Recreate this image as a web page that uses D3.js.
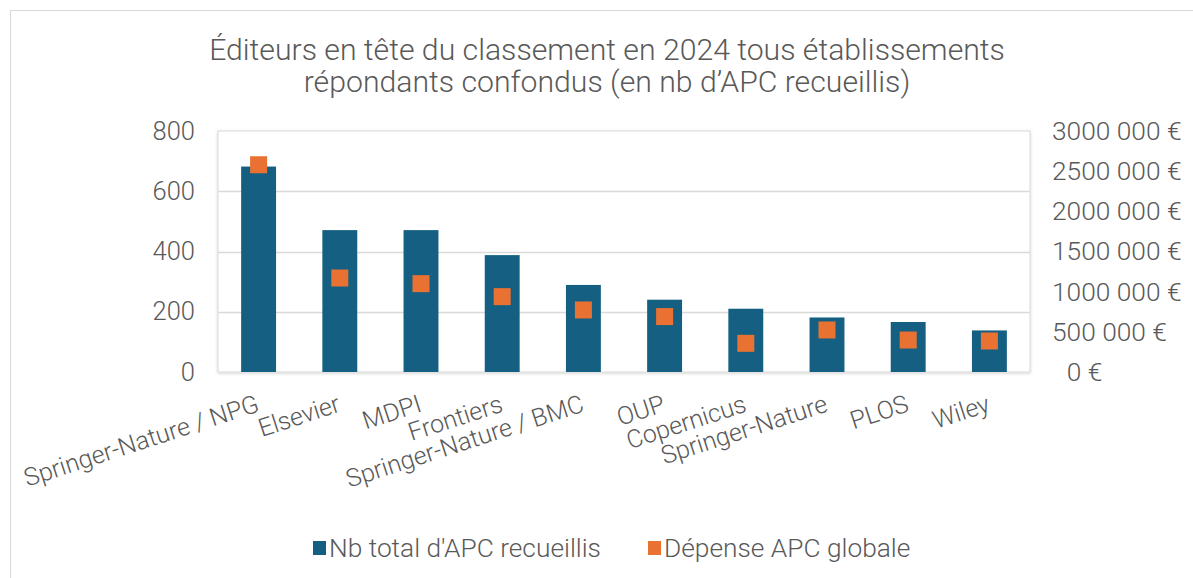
<!DOCTYPE html>
<html>
<head>
<meta charset="utf-8">
<script src="https://cdn.jsdelivr.net/npm/d3@7"></script>
<style>
  body { margin: 0; background: #fff; }
  svg text { font-family: Roboto, "Noto Sans", sans-serif; font-weight: 300; fill: #595959; }
</style>
</head>
<body>
<div id="chart"></div>
<script>
// publishers, ranked by number of APC collected in 2024
const editeurs = ["Springer-Nature / NPG", "Elsevier", "MDPI", "Frontiers", "Springer-Nature / BMC",
                  "OUP", "Copernicus", "Springer-Nature", "PLOS", "Wiley"];
const nbApc = [682, 471, 471, 388, 289, 240, 210, 181, 166, 138];
const depenseApc = [2580000, 1170000, 1100000, 938000, 772000, 690000, 357000, 523000, 398000, 386000];

const leftTicks = [0, 200, 400, 600, 800];
const rightTicks = [0, 500000, 1000000, 1500000, 2000000, 2500000, 3000000];
const rightTickLabels = ["\u20070 €", "500 000 €", "1000 000 €", "1500 000 €", "2000 000 €", "2500 000 €", "3000 000 €"];

const titleLines = ["Éditeurs en tête du classement en 2024 tous établissements",
                    "répondants confondus (en nb d’APC recueillis)"];
const seriesNames = ["Nb total d'APC recueillis", "Dépense APC globale"];

const width = 1193;
const height = 578;
const margin = {left: 218, right: 163, top: 131, bottom: 206};
const blue = "#156082";
const orange = "#E97132";

const svg = d3.select("#chart")
  .append("svg")
  .attr("width", width)
  .attr("height", height);

// drop shadow for plot area
const defs = svg.append("defs");
const filt = defs.append("filter").attr("id", "shadow")
  .attr("x", "-5%").attr("y", "-5%").attr("width", "110%").attr("height", "110%");
filt.append("feDropShadow")
  .attr("dx", 0).attr("dy", 1).attr("stdDeviation", 1.5)
  .attr("flood-color", "#000").attr("flood-opacity", 0.18);

// outer chart frame (runs off the right/bottom of the picture)
svg.append("rect")
  .attr("x", 10.5).attr("y", 10.5)
  .attr("width", width + 20).attr("height", height + 20)
  .attr("fill", "none")
  .attr("stroke", "#d9d9d9");

// title
svg.append("g").selectAll("text")
  .data(titleLines)
  .join("text")
  .attr("x", 607)
  .attr("y", (d, i) => 60 + i * 32)
  .attr("text-anchor", "middle")
  .attr("font-size", "30.2px")
  .text(d => d);

const x = d3.scaleBand()
  .domain(editeurs)
  .range([margin.left, width - margin.right])
  .paddingInner(0.57)
  .paddingOuter(0.285);

const y = d3.scaleLinear()
  .domain([0, 800])
  .range([height - margin.bottom, margin.top]);

const y2 = d3.scaleLinear()
  .domain([0, 3000000])
  .range([height - margin.bottom, margin.top]);

// plot area box
svg.append("rect")
  .attr("x", margin.left).attr("y", margin.top)
  .attr("width", width - margin.left - margin.right)
  .attr("height", height - margin.top - margin.bottom)
  .attr("fill", "#fff")
  .attr("stroke", "#d9d9d9")
  .attr("filter", "url(#shadow)");

// gridlines
svg.append("g")
  .selectAll("line")
  .data(leftTicks.slice(1, -1))
  .join("line")
  .attr("x1", margin.left).attr("x2", width - margin.right)
  .attr("y1", d => Math.round(y(d)) + 0.5).attr("y2", d => Math.round(y(d)) + 0.5)
  .attr("stroke", "#d9d9d9").attr("stroke-width", 1.5);

// left axis
const axL = svg.append("g")
  .attr("transform", `translate(${margin.left}, 0)`)
  .call(d3.axisLeft(y).tickValues(leftTicks).tickSize(0).tickPadding(23));
axL.select(".domain").remove();
axL.selectAll("text").attr("font-size", "25.5px").attr("fill", "#595959");

// right axis
const axR = svg.append("g")
  .attr("transform", `translate(${width - margin.right}, 0)`)
  .call(d3.axisRight(y2).tickValues(rightTicks).tickSize(0).tickPadding(22)
    .tickFormat((d, i) => rightTickLabels[i]));
axR.select(".domain").remove();
axR.selectAll("text").attr("font-size", "26.3px").attr("fill", "#595959");

// bars
svg.selectAll(".bar")
  .data(nbApc)
  .join("rect")
  .attr("class", "bar")
  .attr("x", (d, i) => x(editeurs[i]))
  .attr("y", d => y(d))
  .attr("width", x.bandwidth())
  .attr("height", d => y(0) - y(d))
  .attr("fill", blue);

// markers
const ms = 17;
svg.selectAll(".marker")
  .data(depenseApc)
  .join("rect")
  .attr("class", "marker")
  .attr("x", (d, i) => x(editeurs[i]) + x.bandwidth() / 2 - ms / 2)
  .attr("y", d => y2(d) - ms / 2)
  .attr("width", ms).attr("height", ms)
  .attr("fill", orange);

// category labels, rotated
svg.append("g").selectAll("text")
  .data(editeurs)
  .join("text")
  .attr("transform", d => `translate(${x(d) + x.bandwidth() / 2 + 2}, 411) rotate(-18)`)
  .attr("text-anchor", "end")
  .attr("font-size", "25px")
  .text(d => d);

// legend
const legend = svg.append("g").attr("transform", "translate(313, 548)");
const legX = [0, 335];
const leg = legend.selectAll("g")
  .data(seriesNames)
  .join("g")
  .attr("transform", (d, i) => `translate(${legX[i]}, 0)`);
leg.append("rect")
  .attr("x", 0).attr("y", -7)
  .attr("width", 13).attr("height", 14)
  .attr("fill", (d, i) => i === 0 ? blue : orange);
leg.append("text")
  .attr("x", 16).attr("y", 9)
  .attr("font-size", "26.3px")
  .text(d => d);
</script>
</body>
</html>
